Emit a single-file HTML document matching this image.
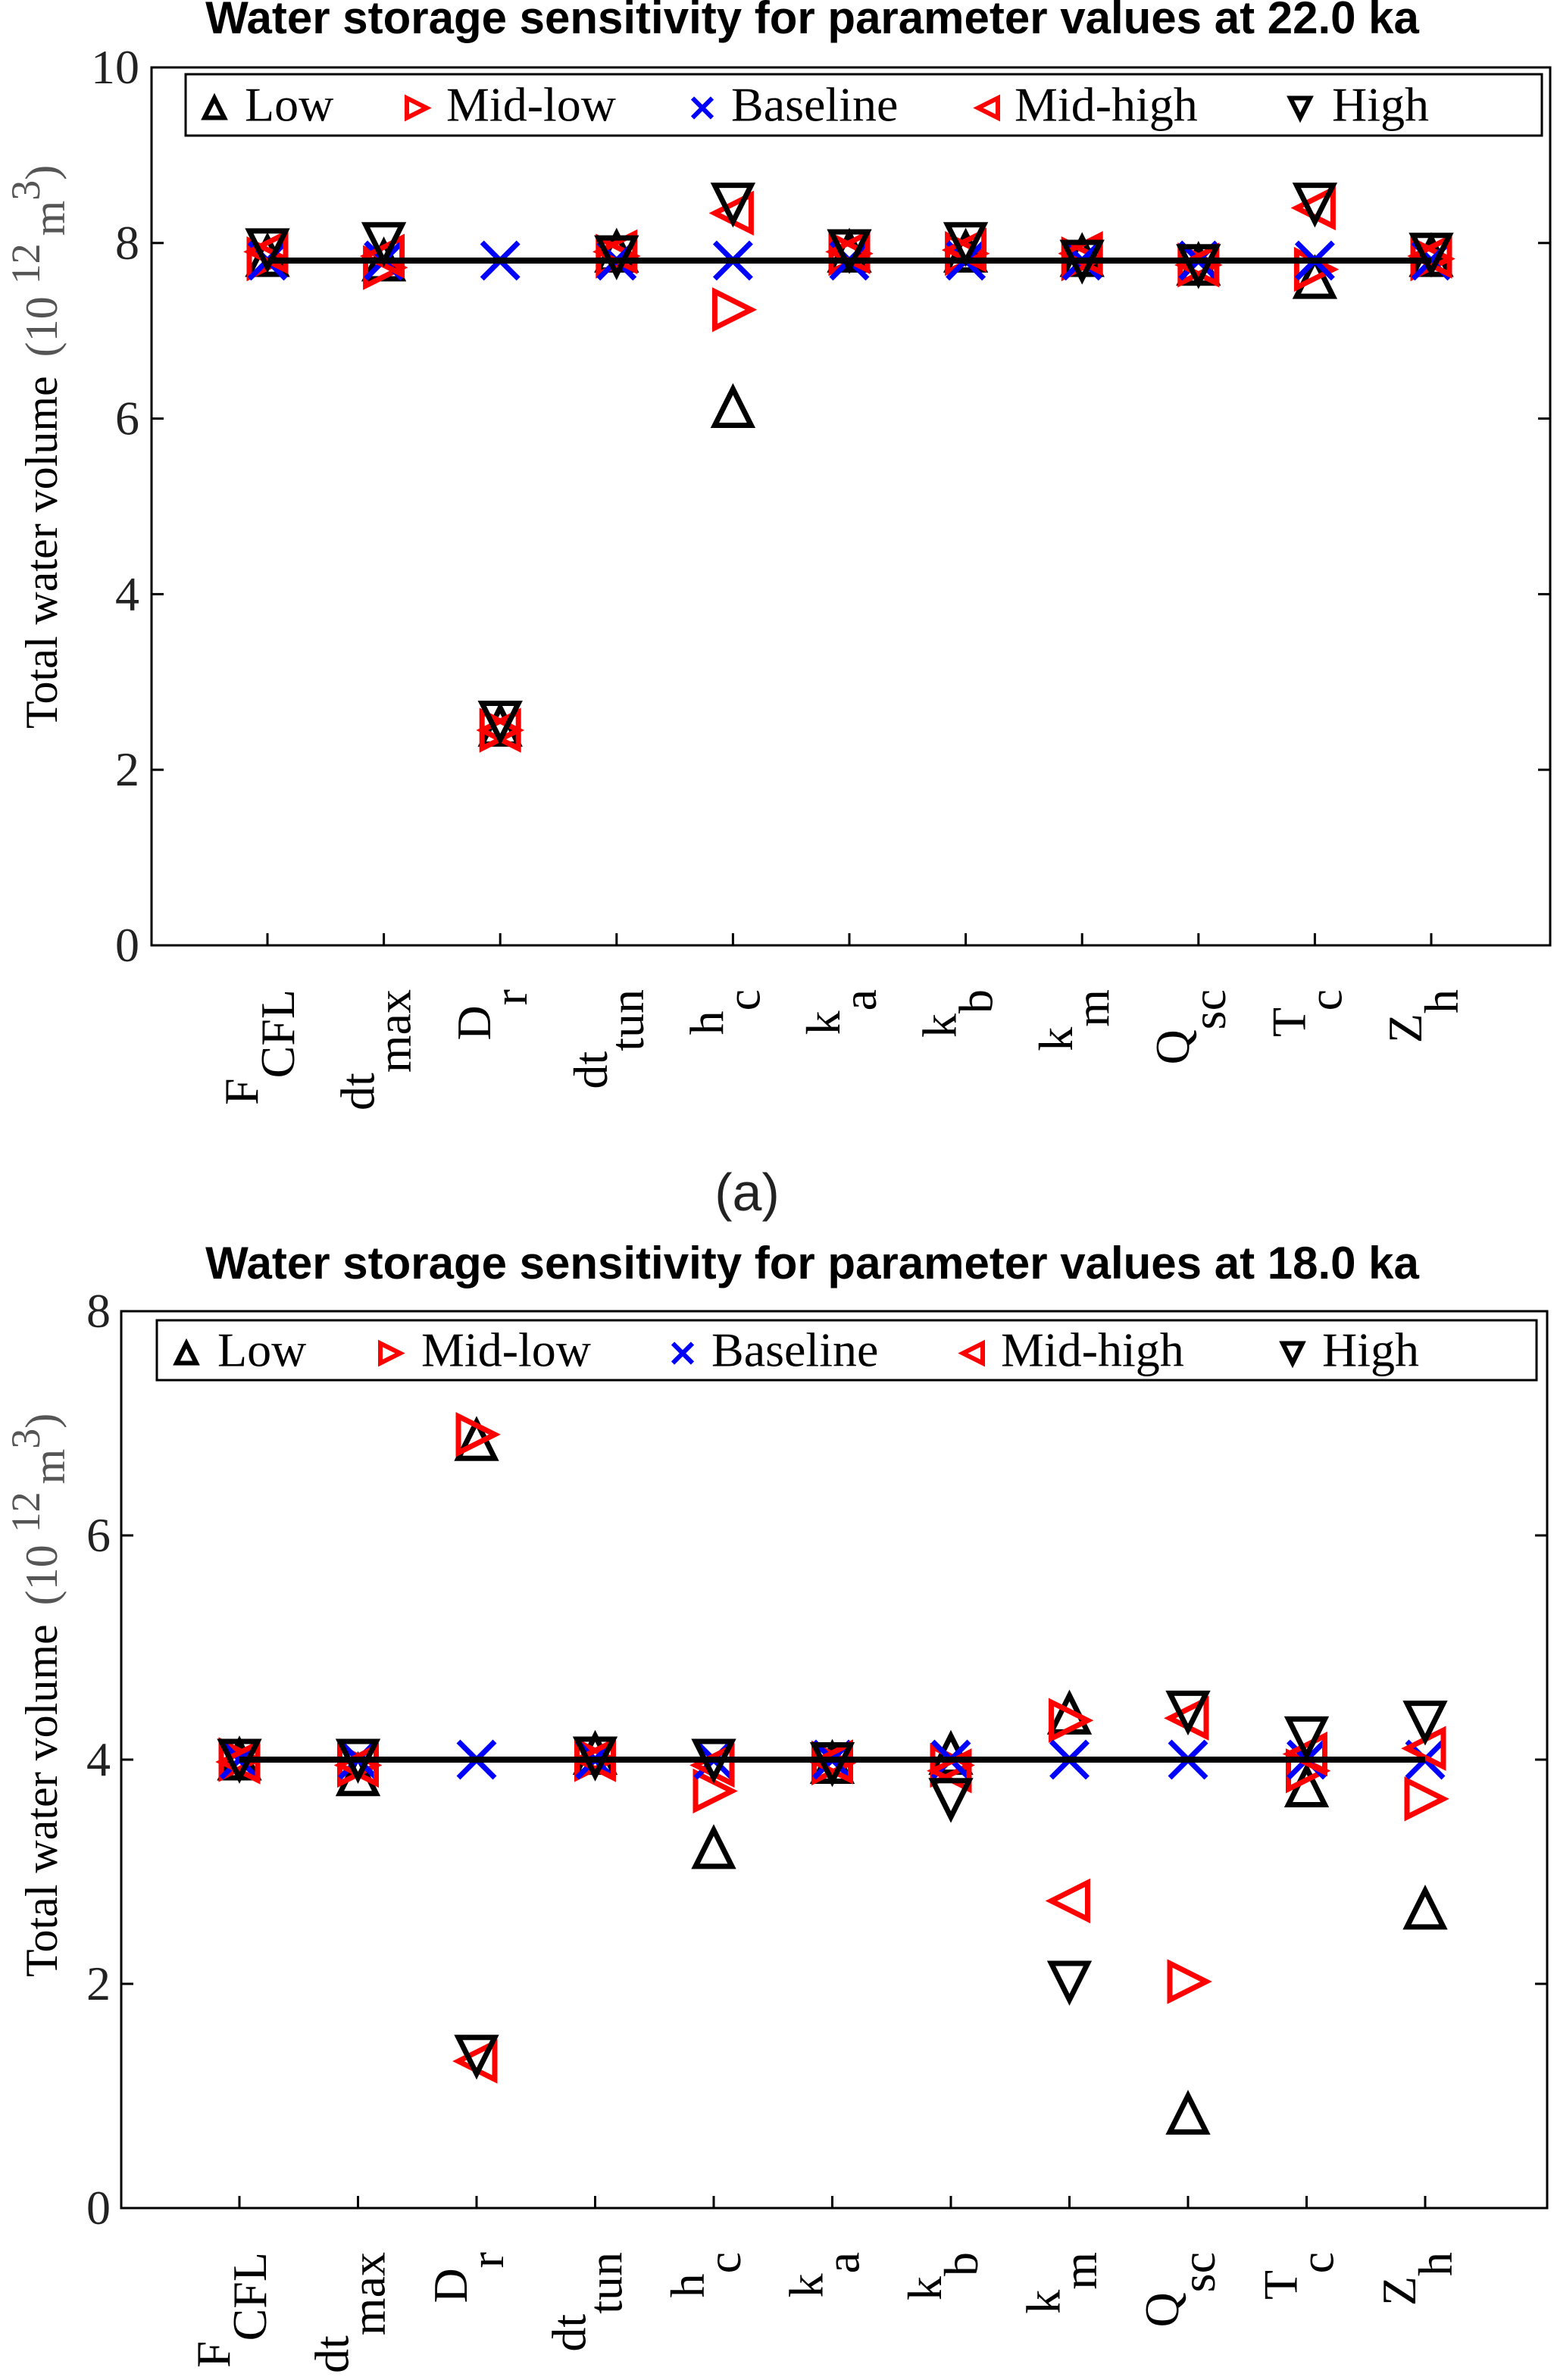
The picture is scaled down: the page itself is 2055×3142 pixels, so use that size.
<!DOCTYPE html>
<html><head><meta charset="utf-8"><style>
html,body{margin:0;padding:0;background:#fff;}
svg{display:block;}
</style></head><body>
<svg id="svg" width="2055" height="3142" viewBox="0 0 2055 3142" xmlns="http://www.w3.org/2000/svg">
<text x="1072" y="44" font-size="60" font-weight="bold" font-family="Liberation Sans, sans-serif" text-anchor="middle">Water storage sensitivity for parameter values at 22.0 ka</text>
<text x="986" y="1598" font-size="70" text-anchor="middle" fill="#222" font-family="Liberation Sans, sans-serif">(a)</text>
<text x="1072" y="1688" font-size="60" font-weight="bold" font-family="Liberation Sans, sans-serif" text-anchor="middle">Water storage sensitivity for parameter values at 18.0 ka</text>
<g id="c1"></g>
<g id="c2"></g>
</svg>
<script>
const categories = ["F|CFL","dt|max","D|r","dt|tun","h|c","k|a","k|b","k|m","Q|sc","T|c","Z|h"];
const seriesNames = ["Low","Mid-low","Baseline","Mid-high","High"];
// chart 1 (22.0 ka)
const c1Low     = [7.85,7.8,2.5,7.9,6.13,7.9,7.9,7.85,7.75,7.6,7.85];
const c1MidLow  = [7.82,7.72,2.45,7.85,7.24,7.88,7.88,7.82,7.75,7.7,7.82];
const c1Base    = [7.8,7.8,7.8,7.8,7.8,7.8,7.8,7.8,7.8,7.8,7.8];
const c1MidHigh = [7.9,7.85,2.45,7.9,8.34,7.9,7.92,7.88,7.75,8.4,7.85];
const c1High    = [7.93,8.0,2.55,7.85,8.45,7.92,8.0,7.8,7.75,8.45,7.88];
const c1Ticks   = [0,2,4,6,8,10];
const c1BaseLine = 7.8;
// chart 2 (18.0 ka)
const c2Low     = [4.0,3.86,6.85,4.05,3.21,3.97,4.05,4.41,0.84,3.76,2.67];
const c2MidLow  = [4.0,3.95,6.9,4.0,3.72,3.97,3.95,4.35,2.02,3.9,3.65];
const c2Base    = [4.0,4.0,4.0,4.0,4.0,4.0,4.0,4.0,4.0,4.0,4.0];
const c2MidHigh = [3.98,3.95,1.31,4.0,3.95,3.98,3.9,2.74,4.37,4.05,4.1];
const c2High    = [4.0,4.0,1.36,4.02,4.0,3.97,3.65,2.02,4.43,4.2,4.34];
const c2Ticks   = [0,2,4,6,8];
const c2BaseLine = 4.0;

const NS="http://www.w3.org/2000/svg";
const SERIF="Liberation Serif, serif";
function mk(tag,attrs,parent){const e=document.createElementNS(NS,tag);for(const k in attrs)e.setAttribute(k,attrs[k]);parent.appendChild(e);return e;}

function marker(g,kind,cx,cy,s,sw){
  const h=s/2;let el;
  if(kind===2){
    el=mk('path',{d:`M${cx-h},${cy-h}L${cx+h},${cy+h}M${cx-h},${cy+h}L${cx+h},${cy-h}`,stroke:'#0000ff','stroke-width':sw,fill:'none'},g);
  } else {
    let pts;
    if(kind===0) pts=[[cx,cy-h],[cx+h,cy+h],[cx-h,cy+h]];
    if(kind===4) pts=[[cx-h,cy-h],[cx+h,cy-h],[cx,cy+h]];
    if(kind===1) pts=[[cx-h,cy-h],[cx+h,cy],[cx-h,cy+h]];
    if(kind===3) pts=[[cx+h,cy-h],[cx-h,cy],[cx+h,cy+h]];
    const col=(kind===1||kind===3)?'#ff0000':'#000';
    el=mk('polygon',{points:pts.map(p=>p.join(',')).join(' '),stroke:col,'stroke-width':sw,fill:'none','stroke-linejoin':'miter'},g);
  }
  return el;
}

function drawChart(g,cfg){
  const {L,R,T,B,ymax,ticks,series,base,tickX,labR,legX,legL,legR,legT,legB,ylab}=cfg;
  const xs=i=>tickX[0]+(tickX[1]-tickX[0])*i;
  const ys=v=>B-(B-T)*v/ymax;
  ticks.forEach(v=>{
    const y=ys(v);
    const tl=mk('line',{x1:L,y1:y,x2:L+16,y2:y,stroke:'#000','stroke-width':3},g);
    
    
    const tr=mk('line',{x1:R-16,y1:y,x2:R,y2:y,stroke:'#000','stroke-width':3},g);
    
    
    const t=mk('text',{x:labR,y:y+21,'font-size':64,'text-anchor':'end',fill:'#222','font-family':SERIF},g);
    t.textContent=String(v);
    
    
  });
  categories.forEach((c,i)=>{
    const x=xs(i);
    const tk=mk('line',{x1:x,y1:B,x2:x,y2:B-16,stroke:'#000','stroke-width':3},g);
    
    
    const parts=c.split('|');
    const t=mk('text',{transform:`translate(${x-13},${B+58}) rotate(-90)`,'font-size':64,'text-anchor':'end','font-family':SERIF},g);
    
    
    const a=mk('tspan',{},t);a.textContent=parts[0];
    const b=mk('tspan',{dy:48},t);b.textContent=parts[1];
  });
  const yl=mk('text',{transform:`translate(75,${ylab}) rotate(-90)`,'font-size':60,'font-family':SERIF},g);
  
  
  const s1=mk('tspan',{},yl);s1.textContent='Total water volume ';
  const s2=mk('tspan',{fill:'#555',dx:10},yl);s2.textContent='(10';
  const s3=mk('tspan',{fill:'#555',dy:-23,dx:16,'font-size':54},yl);s3.textContent='12';
  const s4=mk('tspan',{fill:'#555',dy:33,dx:10},yl);s4.textContent='m';
  const s5=mk('tspan',{fill:'#555',dy:-33,'font-size':54},yl);s5.textContent='3';
  const s6=mk('tspan',{fill:'#555',dy:23},yl);s6.textContent=')';
  series.forEach((arr,k)=>{
    arr.forEach((v,i)=>{
      const m=marker(g,k,xs(i),ys(v),48,7);
      
      
    });
  });
  const bl=mk('line',{x1:xs(0),y1:ys(base),x2:xs(categories.length-1),y2:ys(base),stroke:'#000','stroke-width':8},g);
  
  
  const fr=mk('rect',{x:L,y:T,width:R-L,height:B-T,fill:'none',stroke:'#000','stroke-width':3},g);
  
  
  const lb=mk('rect',{x:legL,y:legT,width:legR-legL,height:legB-legT,fill:'#fff',stroke:'#000','stroke-width':3},g);
  
  
  const cy=(legT+legB)/2;
  seriesNames.forEach((n,k)=>{
    const m=marker(g,k,legX[k][0],cy+4,26,6);
    
    
    const t=mk('text',{x:legX[k][1],y:cy+21,'font-size':64,'font-family':SERIF},g);
    t.textContent=n;
    
    
  });
}

drawChart(document.getElementById('c1'),{L:200,R:2046,T:89,B:1248,ymax:10,ticks:c1Ticks,
  series:[c1Low,c1MidLow,c1Base,c1MidHigh,c1High],base:c1BaseLine,tickX:[353,506.6],labR:184,
  legL:245,legR:2035,legT:98,legB:179,legX:[[283,323],[550,589],[927,965],[1304,1339],[1716,1758]],ylab:962});
drawChart(document.getElementById('c2'),{L:160,R:2042,T:1731,B:2915,ymax:8,ticks:c2Ticks,
  series:[c2Low,c2MidLow,c2Base,c2MidHigh,c2High],base:c2BaseLine,tickX:[316,472.5],labR:146,
  legL:207,legR:2028,legT:1743,legB:1822,legX:[[246,287],[515,556],[901,939],[1284,1321],[1706,1745]],ylab:2610});
</script>
</body></html>
